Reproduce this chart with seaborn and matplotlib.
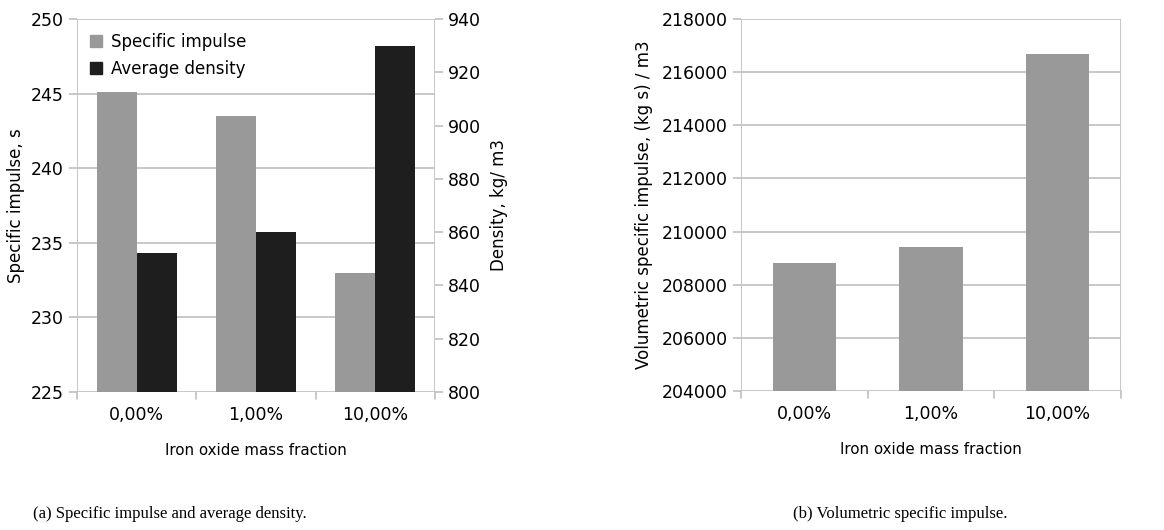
import pandas as pd
import matplotlib
matplotlib.use("Agg")
import matplotlib.pyplot as plt
import seaborn as sns

# data
fractions = ["0,00%", "1,00%", "10,00%"]
isp = [245.1, 243.5, 233.0]           # s
density = [852.2, 860.0, 930.0]       # kg/m3
vol_isp = [208800, 209400, 216700]    # (kg s)/m3

GREY, BLACK, LINE = "#999999", "#1e1e1e", "#bfbfbf"

sns.set_theme(style="white")
plt.rcParams["font.family"] = ["DejaVu Sans"]
plt.rcParams["text.color"] = "black"
plt.rcParams["axes.labelcolor"] = "black"

series = ["Specific impulse", "Average density"]
df = pd.DataFrame({
    "fraction": fractions * 2,
    "series": [series[0]] * 3 + [series[1]] * 3,
    "value": isp + density,
})
df_vol = pd.DataFrame({"fraction": fractions, "value": vol_isp})

fig = plt.figure(figsize=(11.64, 5.30), dpi=100)
ax = fig.add_axes([0.0662, 0.2604, 0.3075, 0.7038])
ax2 = ax.twinx()
axb = fig.add_axes([0.6366, 0.2623, 0.3264, 0.7019])


def style(a, right=False):
    for s in a.spines.values():
        s.set_visible(False)
    a.tick_params(axis="y", colors=LINE, labelcolor="black", labelsize=12.5,
                  length=6, width=1.2, direction="out",
                  left=not right, right=right, labelleft=not right, labelright=right)
    a.tick_params(axis="x", length=0, labelsize=12.5, labelcolor="black", pad=10)


bar_kw = dict(x="fraction", y="value", hue="series", hue_order=series,
              palette=[GREY, BLACK], width=0.67, dodge=True, saturation=1,
              linewidth=0, legend=False, zorder=3)

# left: specific impulse (grey) on left axis, density (black) on right axis
ax.yaxis.grid(True, color=LINE, lw=1.2, zorder=0)
ax.set_axisbelow(True)
sns.barplot(data=df[df.series == series[0]], ax=ax, **bar_kw)
sns.barplot(data=df[df.series == series[1]], ax=ax2, **bar_kw)
ax.set_ylim(225, 250)
ax.set_yticks(range(225, 251, 5))
ax2.set_ylim(800, 940)
ax2.set_yticks(range(800, 941, 20))
ax.set_ylabel("Specific impulse, s", fontsize=12, labelpad=4)
ax2.set_ylabel("Density, kg/ m3", fontsize=12, labelpad=6)
ax.set_xlabel("Iron oxide mass fraction", fontsize=10.8, labelpad=14)
ax2.set_xlabel("")
style(ax)
style(ax2, right=True)
ax.axvline(-0.5, color=LINE, lw=1.2)
ax.axvline(2.5, color=LINE, lw=1.2)

handles = [plt.Line2D([], [], marker="s", ls="", color=c, markersize=9) for c in (GREY, BLACK)]
ax2.legend(handles, series, loc="upper left", frameon=False, fontsize=12,
           handletextpad=-0.1, borderaxespad=0.3, labelspacing=0.55,
           bbox_to_anchor=(-0.025, 0.995))

# right: volumetric specific impulse
axb.yaxis.grid(True, color=LINE, lw=1.2, zorder=0)
axb.set_axisbelow(True)
sns.barplot(data=df_vol, x="fraction", y="value", color=GREY, width=0.5,
            saturation=1, linewidth=0, ax=axb, zorder=3)
axb.set_ylim(204000, 218000)
axb.set_yticks(range(204000, 218001, 2000))
axb.set_ylabel("Volumetric specific impulse, (kg s) / m3", fontsize=12, labelpad=6)
axb.set_xlabel("Iron oxide mass fraction", fontsize=10.8, labelpad=14)
style(axb)
axb.axvline(-0.5, color=LINE, lw=1.2)
axb.axvline(2.5, color=LINE, lw=1.2)

# category separator ticks along the bottom
for a in (ax, axb):
    a.set_xlim(-0.5, 2.5)
    for xb in (-0.5, 0.5, 1.5, 2.5):
        a.plot([xb, xb], [0, -0.018], transform=a.get_xaxis_transform(),
               color=LINE, lw=1.2, clip_on=False)

fig.text(0.146, 0.022, "(a) Specific impulse and average density.",
         family="Liberation Serif", fontsize=12, ha="center")
fig.text(0.773, 0.022, "(b) Volumetric specific impulse.",
         family="Liberation Serif", fontsize=12, ha="center")

fig.savefig("out.png", dpi=100)
